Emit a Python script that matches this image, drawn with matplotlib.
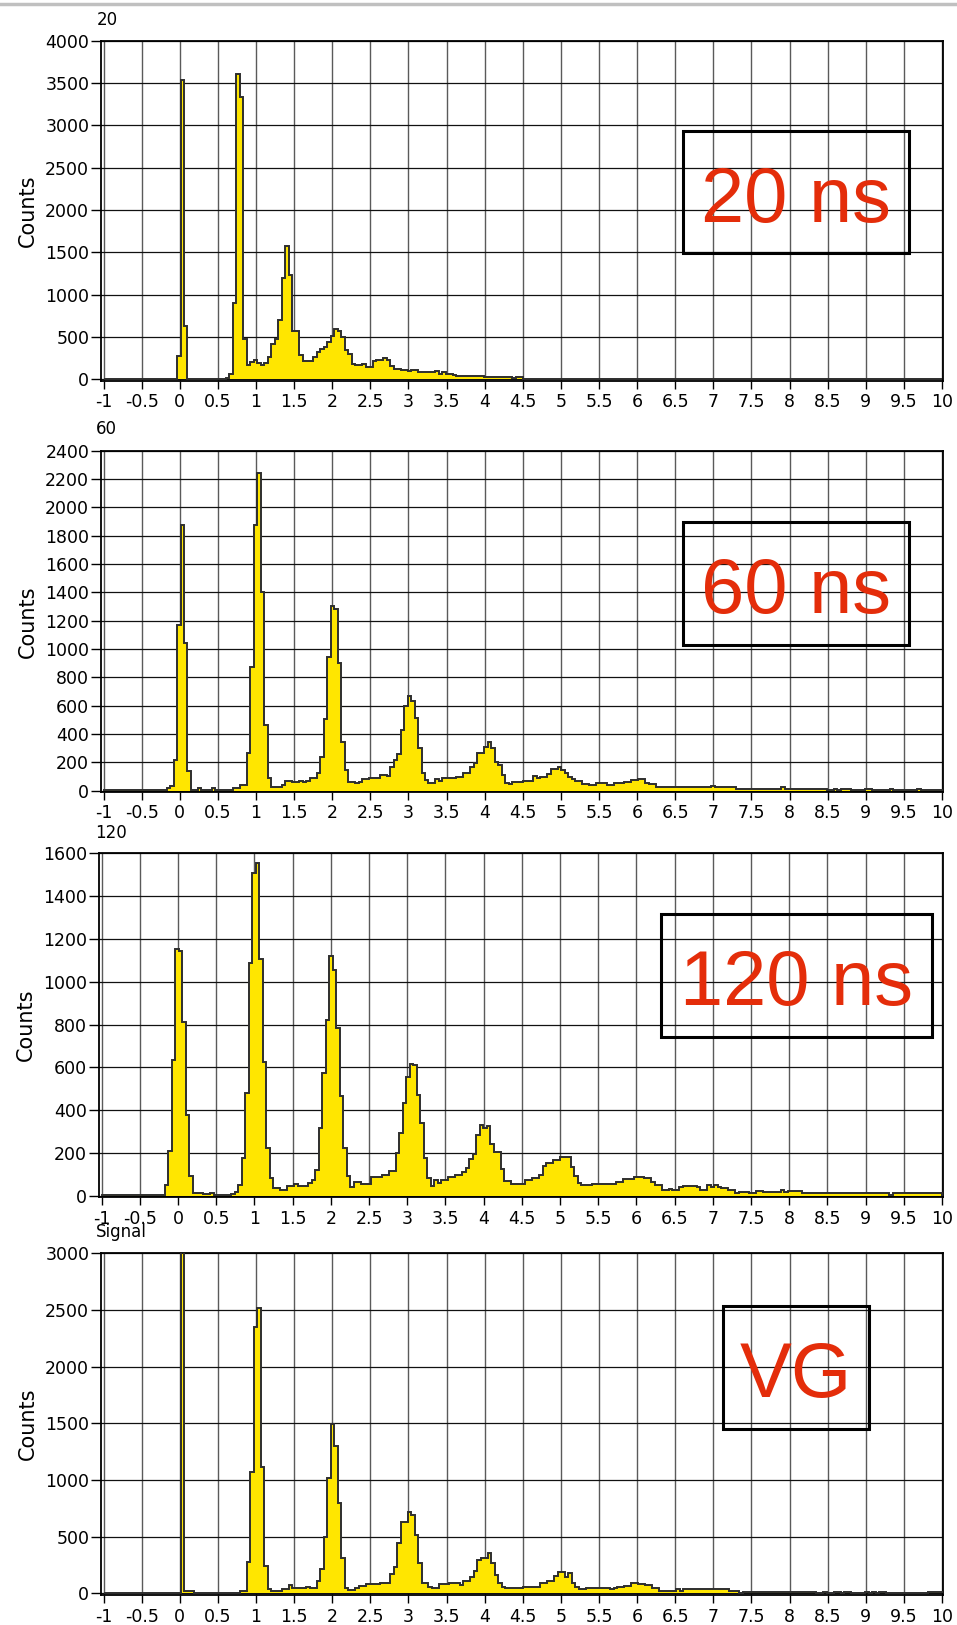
import numpy as np
import matplotlib
matplotlib.use("Agg")
import matplotlib.pyplot as plt
from matplotlib.patches import Rectangle
from matplotlib.lines import Line2D
from matplotlib.ticker import MultipleLocator, FormatStrFormatter

plt.rcParams["font.family"] = ["DejaVu Sans"]

# histogram counts, 240 bins between -1 and 10
bin_w = 11.0 / 240

c20 = ([0] * 21 + [280, 3540, 630] + [0] * 11 +
       [20, 60, 900, 3610, 3340, 480] +
       [170, 210, 235, 195, 175, 195, 265, 415, 480, 707, 1195, 1570] +
       [1234, 570, 570, 285, 215, 215, 215, 265, 325, 363, 383, 441, 512, 590, 570, 500,
        344, 300, 180, 168, 168, 180, 148, 148, 215, 235, 235, 254, 227, 156, 129, 129,
        110, 110, 98, 110, 110] +
       [82] * 5 + [100, 70, 82, 62, 62, 50] + [40] * 3 + [43] * 5 + [30] * 8 +
       [18, 30, 30] + [0] * 120)

c60 = ([5] * 18 + [15, 30, 215, 1170, 1875, 1045, 140] +
       [5, 5, 15, 5, 5, 5, 15] + [5] * 5 + [15, 15, 40, 40] +
       [265, 875, 1875, 2240, 1405, 465, 87, 28, 28, 28, 40, 70, 70, 58, 58, 70, 58, 68,
        87, 87, 122, 235, 505, 945, 1300, 1280, 900, 345, 145, 63, 63, 52, 63, 82, 82,
        92, 92, 92, 110, 110, 100, 165, 215, 260, 430, 600, 665, 630, 510, 300, 127, 75,
        56, 56, 80, 70, 92, 92, 92, 92, 94, 94, 127, 127, 170, 198, 264, 264, 306, 341,
        299, 200, 181, 110, 55, 47, 63, 63, 63, 66, 66, 66, 103, 87, 94, 94, 115, 150,
        150, 165, 146, 122, 99, 80, 70, 70, 47, 47, 40, 40, 52, 52, 56, 40, 40, 52, 52,
        52, 63, 63, 75, 75, 80, 80, 56, 47, 47] +
       [28] * 16 + [35] + [28] * 6 + [14] * 13 + [28] + [14] * 12 +
       [5, 5, 14, 5, 14, 14, 14] + [5] * 4 + [14, 14] + [5] * 5 + [14] + [5] * 7 +
       [14] + [5] * 6)

c120 = ([3] * 18 + [50, 210, 634, 1151, 1145, 813, 377, 93, 11, 11, 11, 6, 6, 14] +
        [3] * 5 +
        [10, 16, 50, 175, 481, 1086, 1506, 1556, 1104, 626, 221, 81, 34, 34, 26, 26, 47,
         47, 55, 47, 47, 47, 58, 73, 120, 315, 572, 821, 1121, 1055, 782, 466, 221, 93,
         39, 65, 65, 55, 55, 55, 86, 86, 86, 97, 97, 117, 117, 198, 291, 435, 556, 615,
         611, 470, 338, 178, 81, 47, 73, 58, 73, 73, 89, 89, 95, 95, 112, 129, 172, 195,
         283, 331, 315, 326, 242, 203, 203, 126, 69, 69] +
        [57] * 4 + [75, 75, 83, 83, 98, 137, 152, 152, 165, 165, 183, 180, 180, 134, 92,
                    60] +
        [48] * 3 + [54] * 4 + [57] * 3 + [65, 65] + [80] * 3 + [88] * 3 +
        [85, 85, 65, 49, 49, 26, 26, 32, 26, 26, 42] + [46] * 4 +
        [42, 26, 26, 49, 42, 49, 42, 37, 37, 26, 26, 14] + [18] * 3 + [15, 15, 22, 22] +
        [18] * 5 + [26, 18] + [23] * 4 + [15] * 3 + [11] * 11 + [15] + [11] * 6 + [15] +
        [11] * 3 + [3] + [11] * 14)

cvg = ([3] * 22 + [4500, 20, 20, 20] + [3] * 13 +
       [23, 23, 280, 1073, 2353, 2515, 1118, 244, 38, 20, 20, 20, 35, 35, 73] +
       [50] * 4 +
       [59, 50, 50, 109, 215, 500, 1015, 1490, 1300, 800, 315, 44, 29, 29, 50, 65, 65] +
       [79] * 4 + [88] * 3 +
       [170, 235, 440, 632, 632, 720, 690, 515, 265, 88, 88, 59, 50, 50] +
       [79] * 3 + [88] * 3 +
       [74, 112, 112, 147, 200, 294, 309, 309, 360, 265, 162, 88, 59] +
       [50] * 5 + [59] * 5 +
       [88, 88, 112, 112, 153, 185, 185, 147, 176, 88, 59, 35, 35, 44, 44] +
       [50] * 5 + [35, 50, 59, 59, 65, 65, 88, 88, 79, 79, 74, 74, 44, 44] +
       [20] * 5 + [35, 20] + [35] * 13 + [20] * 3 + [0] + [15] * 21 +
       [0, 0, 15, 0, 0, 15, 15, 0, 15, 15] + [0] * 4 +
       [15, 0, 15, 0, 15, 15] + [2] * 12 + [15] * 4)

titles = ["20", "60", "120", "Signal"]
labels = ["20 ns", "60 ns", "120 ns", "VG"]
ymax = [4000, 2400, 1600, 3000]
ystep = [500, 200, 200, 500]

# layout in pixels of the 957 x 1625 picture
W, H = 957.0, 1625.0
frames = [(101, 40.7, 942.7, 380.7, -15),
          (101, 450.7, 942.7, 792.0, -10),
          (99, 853.3, 942.7, 1197.0, -6),
          (101, 1253.3, 942.7, 1595.0, -15)]
title_pos = [(97, 20), (96, 429), (95, 833), (96, 1232)]
boxes = [(683, 131, 909, 253), (683, 522, 909, 645),
         (661, 914, 932, 1037), (723, 1306, 869, 1429)]

yellow = "#ffe600"
red = "#e42d0a"

fig = plt.figure(figsize=(9.57, 16.25), dpi=100)
fig.add_artist(Line2D([0, 1], [1 - 4 / H, 1 - 4 / H], color="#c0c0c0", lw=2.5))

for i, counts in enumerate([c20, c60, c120, cvg]):
    x0, y0, x1, y1, ylo = frames[i]
    ax = fig.add_axes([x0 / W, 1 - y1 / H, (x1 - x0) / W, (y1 - y0) / H])
    vals = np.array(counts, dtype=float)
    edges = -1 + bin_w * np.arange(len(vals) + 1)
    ax.stairs(vals, edges, fill=True, color=yellow, zorder=2)
    ax.stairs(vals, edges, color="#2e2e2e", lw=1.4, zorder=3)

    ax.set_xlim(-1.035, 10.01)
    ax.set_ylim(ylo, ymax[i])
    ax.xaxis.set_major_locator(MultipleLocator(0.5))
    ax.xaxis.set_major_formatter(FormatStrFormatter("%g"))
    ax.yaxis.set_major_locator(MultipleLocator(ystep[i]))
    ax.set_axisbelow(True)
    ax.grid(True, axis="x", color="#5a5a5a", lw=1.0)
    ax.grid(True, axis="y", color="#111111", lw=0.9)
    for s in ax.spines.values():
        s.set_linewidth(1.3)
    ax.tick_params(axis="y", direction="out", length=7, width=1, pad=1.5, labelsize=12.5)
    ax.tick_params(axis="x", direction="out", length=6, width=1, pad=3, labelsize=12.5)
    ax.set_ylabel("Counts", fontsize=15, labelpad=5)

    tx, ty = title_pos[i]
    fig.text(tx / W, 1 - ty / H, titles[i], fontsize=12, va="center", ha="left")

    bx0, by0, bx1, by1 = boxes[i]
    fig.add_artist(Rectangle((bx0 / W, 1 - by1 / H), (bx1 - bx0) / W, (by1 - by0) / H,
                             fill=False, edgecolor="black", lw=2.2,
                             transform=fig.transFigure))
    cy = (by0 + by1) / 2 + 29.7
    fig.text((bx0 + bx1) / 2 / W, 1 - cy / H, labels[i], fontsize=56, color=red,
             ha="center", va="baseline", family="Liberation Sans")

fig.savefig("out.png", dpi=100)
